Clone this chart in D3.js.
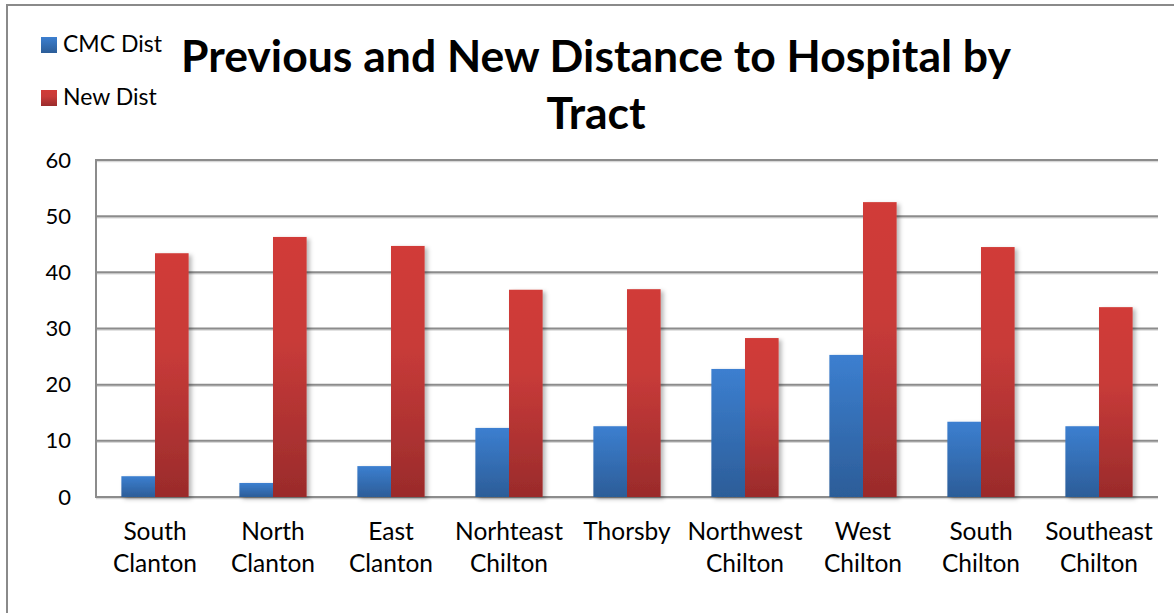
<!DOCTYPE html>
<html>
<head>
<meta charset="utf-8">
<script src="https://cdn.jsdelivr.net/npm/d3@7"></script>
<style>
  html, body { margin: 0; padding: 0; background: #fff; }
  svg { display: block; }
  text { font-family: Lato, "Open Sans", sans-serif; fill: #000; }
</style>
</head>
<body>
<svg id="chart" width="1174" height="613"></svg>
<script>
// Tracts and distances (miles)
const categories = [
  ["South", "Clanton"], ["North", "Clanton"], ["East", "Clanton"],
  ["Norhteast", "Chilton"], ["Thorsby"], ["Northwest", "Chilton"],
  ["West", "Chilton"], ["South", "Chilton"], ["Southeast", "Chilton"]
];
const cmcDist = [3.7, 2.5, 5.5, 12.3, 12.6, 22.8, 25.3, 13.4, 12.6];
const newDist = [43.4, 46.3, 44.7, 36.9, 37.0, 28.3, 52.5, 44.5, 33.8];
const seriesNames = ["CMC Dist", "New Dist"];
const yTicks = [0, 10, 20, 30, 40, 50, 60];
const titleLines = ["Previous and New Distance to Hospital by", "Tract"];

const svg = d3.select("#chart");
const margin = { left: 96, right: 1158, top: 160, bottom: 497 };

const defs = svg.append("defs");
const gradBlue = defs.append("linearGradient").attr("id", "gBlue")
  .attr("x1", 0).attr("y1", 0).attr("x2", 0).attr("y2", 1);
gradBlue.append("stop").attr("offset", "0%").attr("stop-color", "#3c7fd0");
gradBlue.append("stop").attr("offset", "100%").attr("stop-color", "#2c5d98");
const gradRed = defs.append("linearGradient").attr("id", "gRed")
  .attr("x1", 0).attr("y1", 0).attr("x2", 0).attr("y2", 1);
gradRed.append("stop").attr("offset", "0%").attr("stop-color", "#d13b37");
gradRed.append("stop").attr("offset", "40%").attr("stop-color", "#c83b39");
gradRed.append("stop").attr("offset", "100%").attr("stop-color", "#9a2b2b");
const shadow = defs.append("filter").attr("id", "shadow")
  .attr("x", "-20%").attr("y", "-5%").attr("width", "160%").attr("height", "115%");
shadow.append("feDropShadow").attr("dx", 3).attr("dy", 2).attr("stdDeviation", 2)
  .attr("flood-color", "#000").attr("flood-opacity", 0.28);

// Chart frame
svg.append("path")
  .attr("d", "M7,613 L7,5 L1174,5")
  .attr("fill", "none").attr("stroke", "#8a8a8a").attr("stroke-width", 2);

const x = d3.scaleBand()
  .domain(d3.range(categories.length))
  .range([margin.left, margin.right])
  .paddingInner(0.43).paddingOuter(0.215);
const sub = d3.scaleBand().domain([0, 1]).range([0, x.bandwidth()]);
const y = d3.scaleLinear().domain([0, 60]).range([margin.bottom, margin.top]);

// Gridlines
const grid = svg.append("g");
yTicks.forEach(t => {
  grid.append("line")
    .attr("x1", margin.left).attr("x2", margin.right)
    .attr("y1", y(t) + 1.5).attr("y2", y(t) + 1.5)
    .attr("stroke", "#d8d8d8").attr("stroke-width", 1.5);
  grid.append("line")
    .attr("x1", margin.left).attr("x2", margin.right)
    .attr("y1", y(t)).attr("y2", y(t))
    .attr("stroke", "#8c8c8c").attr("stroke-width", 2);
});
svg.append("line")
  .attr("x1", margin.left).attr("x2", margin.left)
  .attr("y1", margin.top - 1).attr("y2", margin.bottom + 1)
  .attr("stroke", "#8c8c8c").attr("stroke-width", 2);

// Bars
const series = [cmcDist, newDist];
const fills = ["url(#gBlue)", "url(#gRed)"];
const bars = svg.append("g").attr("filter", "url(#shadow)");
series.forEach((vals, s) => {
  bars.selectAll(null).data(vals).enter().append("rect")
    .attr("x", (d, i) => x(i) + sub(s))
    .attr("width", sub.bandwidth())
    .attr("y", d => y(d))
    .attr("height", d => y(0) - y(d))
    .attr("fill", fills[s]);
});

// Y axis labels
const yAxis = d3.axisLeft(y).tickValues(yTicks).tickSize(0).tickPadding(25);
const yg = svg.append("g").attr("transform", `translate(${margin.left},0)`).call(yAxis);
yg.select(".domain").remove();
yg.selectAll("text").attr("font-size", 22).attr("font-family", "Lato, sans-serif").attr("fill", "#000");

// X axis labels
const xg = svg.append("g");
categories.forEach((lines, i) => {
  const t = xg.append("text")
    .attr("x", x(i) + x.bandwidth() / 2)
    .attr("y", 540)
    .attr("text-anchor", "middle")
    .attr("font-size", 24.5);
  lines.forEach((ln, k) => {
    t.append("tspan").attr("x", x(i) + x.bandwidth() / 2).attr("dy", k === 0 ? 0 : 32).text(ln);
  });
});

// Title
const title = svg.append("text").attr("text-anchor", "middle")
  .attr("font-size", 44.5).attr("font-weight", "bold");
title.append("tspan").attr("x", 596).attr("y", 72).text(titleLines[0]);
title.append("tspan").attr("x", 596).attr("y", 129).text(titleLines[1]);

// Legend
seriesNames.forEach((name, i) => {
  const ly = 37 + i * 53;
  svg.append("rect").attr("x", 41).attr("y", ly).attr("width", 16).attr("height", 16)
    .attr("fill", fills[i]);
  svg.append("text").attr("x", 63).attr("y", ly + 15).attr("font-size", 23).text(name);
});
</script>
</body>
</html>
